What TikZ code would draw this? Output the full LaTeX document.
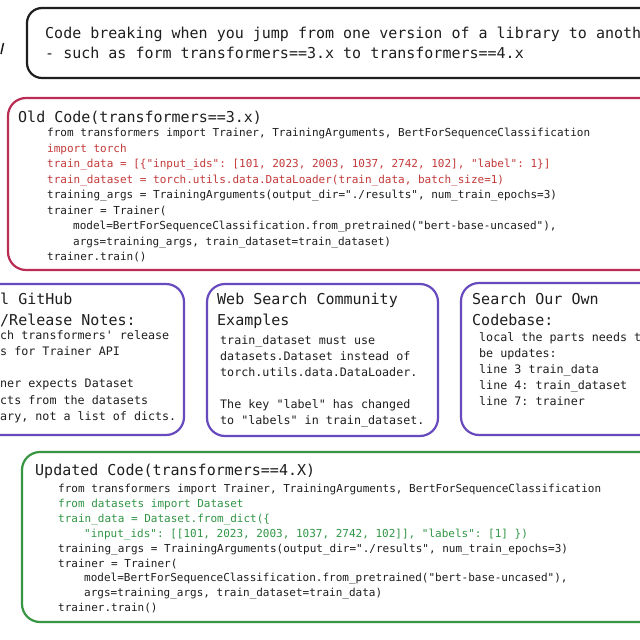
\documentclass[tikz,border=0pt]{standalone}
\usepackage{fontspec}
\setmonofont{DejaVu Sans Mono}
\usepackage{tikz}
\usetikzlibrary{positioning}

\definecolor{inkblack}{RGB}{30,30,30}
\definecolor{oldframe}{RGB}{185,45,85}
\definecolor{oldtext}{RGB}{196,58,58}
\definecolor{sourceframe}{RGB}{103,75,190}
\definecolor{newframe}{RGB}{55,150,65}
\definecolor{newtext}{RGB}{50,150,70}

\begin{document}
\begin{tikzpicture}[x=1pt, y=1pt,
  every node/.style={inner sep=0pt, anchor=base west, text=inkblack},
  heading/.style={font=\ttfamily\fontsize{15}{18}\selectfont},
  note/.style={font=\ttfamily\fontsize{11.7}{14}\selectfont},
  code/.style={font=\ttfamily\fontsize{11}{13}\selectfont},
  frame/.style={line width=2.2pt, rounded corners=18pt}]
\useasboundingbox (0,0) rectangle (640,-640);
\fill [white] (0,0) rectangle (640,-640);
\clip (0,0) rectangle (640,-640);
% question box
\draw [frame, inkblack, rounded corners=15pt] (27,-8) rectangle (700,-78);
\draw [inkblack, line width=1.5pt] (3.5,-43) -- (1,-54);
\node [heading] (intro1) at (45,-38) {Code breaking when you jump from one version of a library to another};
\node [heading] (intro2) at (45,-58) {- such as form transformers==3.x to transformers==4.x};
% old code
\draw [frame, oldframe] (8,-98) rectangle (700,-270);
\node [heading] (oldtitle) at (18,-122) {Old Code(transformers==3.x)};
\node [code] (old1) at (47,-136.5) {from transformers import Trainer, TrainingArguments, BertForSequenceClassification};
\node [code, text=oldtext] (old2) at (47,-152) {import torch};
\node [code, text=oldtext] (old3) at (47,-167.5) {train\_data = [\{"input\_ids": [101, 2023, 2003, 1037, 2742, 102], "label": 1\}]};
\node [code, text=oldtext] (old4) at (47,-183) {train\_dataset = torch.utils.data.DataLoader(train\_data, batch\_size=1)};
\node [code] (old5) at (47,-198.5) {training\_args = TrainingArguments(output\_dir="./results", num\_train\_epochs=3)};
\node [code] (old6) at (47,-214) {trainer = Trainer(};
\node [code] (old7) at (73,-229.5) {model=BertForSequenceClassification.from\_pretrained("bert-base-uncased"),};
\node [code] (old8) at (73,-245) {args=training\_args, train\_dataset=train\_dataset)};
\node [code] (old9) at (47,-260.5) {trainer.train()};
% github notes
\draw [frame, sourceframe] (-60,-284) rectangle (184,-435);
\node [heading] (gittitle1) at (0,-304) {l GitHub};
\node [heading] (gittitle2) at (0,-325) {/Release Notes:};
\node [note] (git1) at (0,-339) {ch transformers' release};
\node [note] (git2) at (0,-355.3) {s for Trainer API};
\node [note] (git3) at (0,-387.9) {ner expects Dataset};
\node [note] (git4) at (0,-404.2) {cts from the datasets};
\node [note] (git5) at (0,-420.5) {ary, not a list of dicts.};
% web search
\draw [frame, sourceframe] (207,-284) rectangle (438,-436);
\node [heading] (webtitle1) at (217,-304) {Web Search Community};
\node [heading] (webtitle2) at (217,-325) {Examples};
\node [note] (web1) at (220,-344) {train\_dataset must use};
\node [note] (web2) at (220,-360) {datasets.Dataset instead of};
\node [note] (web3) at (220,-376) {torch.utils.data.DataLoader.};
\node [note] (web4) at (220,-408) {The key "label" has changed};
\node [note] (web5) at (220,-424) {to "labels" in train\_dataset.};
% own codebase
\draw [frame, sourceframe] (461,-283) rectangle (700,-435);
\node [heading] (owntitle1) at (472,-304) {Search Our Own};
\node [heading] (owntitle2) at (472,-325) {Codebase:};
\node [note] (own1) at (479,-341) {local the parts needs to};
\node [note] (own2) at (479,-357) {be updates:};
\node [note] (own3) at (479,-373) {line 3 train\_data};
\node [note] (own4) at (479,-389) {line 4: train\_dataset};
\node [note] (own5) at (479,-405) {line 7: trainer};
% updated code
\draw [frame, newframe] (22,-452) rectangle (700,-622);
\node [heading] (newtitle) at (35,-475) {Updated Code(transformers==4.X)};
\node [code] (new1) at (58,-492.5) {from transformers import Trainer, TrainingArguments, BertForSequenceClassification};
\node [code, text=newtext] (new2) at (58,-507.4) {from datasets import Dataset};
\node [code, text=newtext] (new3) at (58,-522.3) {train\_data = Dataset.from\_dict(\{};
\node [code, text=newtext] (new4) at (84,-537.2) {"input\_ids": [[101, 2023, 2003, 1037, 2742, 102]], "labels": [1] \})};
\node [code] (new5) at (58,-552.1) {training\_args = TrainingArguments(output\_dir="./results", num\_train\_epochs=3)};
\node [code] (new6) at (58,-567) {trainer = Trainer(};
\node [code] (new7) at (84,-581.9) {model=BertForSequenceClassification.from\_pretrained("bert-base-uncased"),};
\node [code] (new8) at (84,-596.8) {args=training\_args, train\_dataset=train\_data)};
\node [code] (new9) at (58,-611.7) {trainer.train()};
\end{tikzpicture}
\end{document}
